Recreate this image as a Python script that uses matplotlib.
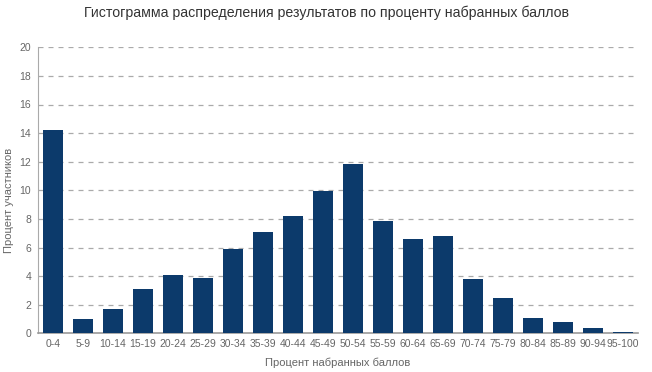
import numpy as np
import matplotlib
matplotlib.use('Agg')
import matplotlib.pyplot as plt

plt.rcParams['font.family'] = ['Liberation Sans', 'DejaVu Sans']

# Data
categories = ['0-4', '5-9', '10-14', '15-19', '20-24', '25-29', '30-34', '35-39',
              '40-44', '45-49', '50-54', '55-59', '60-64', '65-69', '70-74',
              '75-79', '80-84', '85-89', '90-94', '95-100']
values = [14.2, 1.03, 1.73, 3.13, 4.05, 3.84, 5.89, 7.07, 8.19, 9.94,
          11.86, 7.84, 6.57, 6.79, 3.81, 2.5, 1.05, 0.77, 0.35, 0.07]
y_ticks = list(range(0, 21, 2))

fig = plt.figure(figsize=(6.52, 3.72), dpi=100)
ax = fig.add_axes([38 / 652, 1 - 333.3 / 372, 600 / 652, 286 / 372])

x = np.arange(len(categories))
ax.bar(x, values, width=0.66, color='#0c3a6b', zorder=3)

ax.set_xlim(-0.5, len(categories) - 0.5)
ax.set_ylim(0, 20)
ax.set_yticks(y_ticks)
ax.set_xticks(x)
ax.set_xticklabels(categories)

ax.grid(axis='y', color='#aaaaaa', linestyle=(0, (4, 4)), linewidth=0.9, zorder=0)
for s in ['top', 'right']:
    ax.spines[s].set_visible(False)
ax.spines['left'].set_color('#aaaaaa')
ax.spines['bottom'].set_color('#999999')
ax.spines['bottom'].set_linewidth(1.2)
ax.tick_params(axis='both', length=0, labelsize=7.5, colors='#666666', pad=5)
ax.tick_params(axis='x', pad=4)

ax.set_xlabel('Процент набранных баллов', fontsize=8, color='#666666', labelpad=6)
fig.text(9 / 652, 1 - 200 / 372, 'Процент участников', rotation=90,
         ha='center', va='center', fontsize=8, color='#666666')
fig.text(0.5, 1 - 13 / 372, 'Гистограмма распределения результатов по проценту набранных баллов',
         ha='center', va='center', fontsize=10.2, color='#333333')

fig.savefig('out.png', dpi=100)
